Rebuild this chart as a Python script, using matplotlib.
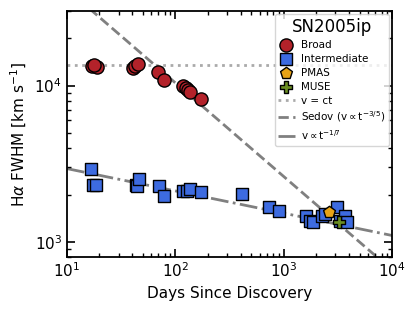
import numpy as np
import matplotlib
matplotlib.use('Agg')
import matplotlib.pyplot as plt

# Broad component
broad_t = [16.9, 18.8, 17.8, 40.9, 42.5, 45.5, 69.7, 78.7, 118.6, 125.6, 132, 136.8, 171]
broad_v = [13400, 13200, 13600, 13000, 13400, 13720, 12140, 10860, 10000, 9670, 9400, 9070, 8230]

# Intermediate component
inter_t = [16.7, 17.5, 18.5, 43.4, 44.0, 46.6, 71, 79, 118.6, 127, 137, 171, 410,
           738, 907, 1610, 1750, 1880, 2250, 2410, 3130, 3320, 3690, 3830]
inter_v = [2930, 2300, 2300, 2300, 2270, 2510, 2260, 1963, 2110, 2110, 2190, 2090, 2030,
           1680, 1580, 1466, 1360, 1344, 1466, 1503, 1660, 1360, 1466, 1330]

pmas_t = [2640]
pmas_v = [1555]
muse_t = [3200]
muse_v = [1333]

v_ct = 13500
sedov_norm = 1.65e5
slow_norm = 4084

fig = plt.figure(figsize=(4.15, 3.14), dpi=100)
ax = fig.add_axes([0.161, 0.182, 0.784, 0.783])

t = np.logspace(1, 4, 200)
ax.plot(t, np.full_like(t, v_ct), ':', color='#aaaaaa', lw=2, label='v = ct', zorder=1)
ax.plot(t, sedov_norm * t ** (-3 / 5), '--', color='gray', lw=2,
        label=r'Sedov (v$\propto$t$^{-3/5}$)', zorder=1)
ax.plot(t, slow_norm * t ** (-1 / 7), '-.', color='gray', lw=2,
        label=r'v$\propto$t$^{-1/7}$', zorder=1)

ax.scatter(broad_t, broad_v, s=90, marker='o', color='#b3222a', edgecolor='k',
           linewidth=1, label='Broad', zorder=3)
ax.scatter(inter_t, inter_v, s=85, marker='s', color='#3d6be0', edgecolor='k',
           linewidth=1, label='Intermediate', zorder=3)
ax.scatter(pmas_t, pmas_v, s=80, marker='p', color='#e8a317', edgecolor='k',
           linewidth=1, label='PMAS', zorder=4)
ax.scatter(muse_t, muse_v, s=80, marker='P', color='#6b8e23', edgecolor='k',
           linewidth=1, label='MUSE', zorder=4)

ax.set_xscale('log')
ax.set_yscale('log')
ax.set_xlim(10, 1e4)
ax.set_ylim(800, 30000)
ax.set_xlabel('Days Since Discovery', fontsize=11)
ax.set_ylabel(r'H$\alpha$ FWHM [km s$^{-1}$]', fontsize=11)
ax.tick_params(which='both', direction='in', top=True, right=True, labelsize=11)
ax.tick_params(which='major', length=6, width=1.2)
ax.tick_params(which='minor', length=3, width=1)
for s in ax.spines.values():
    s.set_linewidth(1.3)

handles, labels = ax.get_legend_handles_labels()
order = [3, 4, 5, 6, 0, 1, 2]
leg = ax.legend([handles[i] for i in order], [labels[i] for i in order],
                title='SN2005ip', title_fontsize=12, fontsize=7.5,
                loc='upper right', handlelength=1.6, handletextpad=0.6,
                labelspacing=0.38, borderaxespad=0.3, borderpad=0.35)

fig.savefig('out.png', dpi=100)
